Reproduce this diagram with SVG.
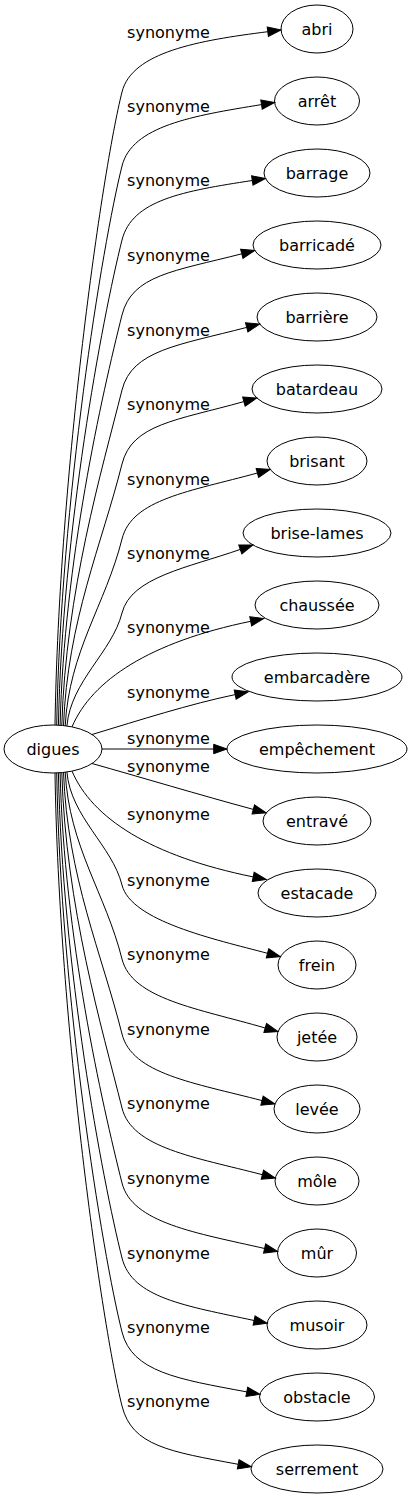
<svg xmlns="http://www.w3.org/2000/svg" width="413" height="1499" viewBox="0 0 413 1499">
<style>
text{font-family:"DejaVu Sans",sans-serif;font-size:16px;fill:#000;text-anchor:middle}
.n ellipse{fill:none;stroke:#000;stroke-width:1}
.e path{fill:none;stroke:#000;stroke-width:1;marker-end:url(#ah)}
</style>
<defs>
<marker id="ah" markerUnits="userSpaceOnUse" markerWidth="16" markerHeight="12" refX="0" refY="0" orient="auto" overflow="visible">
<path d="M0,-4.7 L13.3,0 L0,4.7 Z" fill="#000" stroke="#000" stroke-width="1"/>
</marker>
</defs>
<g id="connectors" class="e">
<path d="M55,725 C59,471.8 102,172 122,92 C132,52 198.4,40.5 267.8,31.7"/>
<path d="M56.7,725.1 C60.7,501.5 102,246 122,166 C132,126 192.4,115.8 261.5,104.6"/>
<path d="M58.4,725.2 C62.4,531.1 102,320 122,240 C132,200 183.1,191.1 252.3,180.5"/>
<path d="M60.1,725.3 C64.1,561.2 102,395 122,315 C132,275 174,271.2 241.8,253.8"/>
<path d="M61.8,725.4 C65.8,591.4 102,470 122,390 C132,350 179,345.1 246.7,327.4"/>
<path d="M63.5,725.6 C67.5,620.9 102,544 122,464 C132,424 176.5,420.4 243.9,401.6"/>
<path d="M65.2,725.8 C69.2,651 105.6,604.5 122,539 C132,499 189.9,491.5 257.4,473"/>
<path d="M66.9,726 C70.9,680.8 112,652.5 122,613 C131,577 188.4,567.6 240.3,549.4"/>
<path d="M72,726.9 C92,680 150,642 250.7,621.3"/>
<path d="M92,734.5 C140,720 190,704 235.2,694.6"/>
<path d="M102,749 L213.7,749"/>
<path d="M92,763.5 C140,777 200,795 253.3,809.4"/>
<path d="M72,771.1 C92,818 150,856 253.2,876.9"/>
<path d="M66.9,772 C70.9,817.2 112,845.5 122,885 C131,921 214.3,939.2 267.5,953.3"/>
<path d="M65.2,772.2 C69.2,847 105.6,893.5 122,959 C132,999 198,1008.5 265.2,1028"/>
<path d="M63.5,772.4 C67.5,877.1 102,954 122,1034 C132,1074 194.3,1082.9 262,1100.6"/>
<path d="M61.8,772.6 C65.8,906.6 102,1028 122,1108 C132,1148 194.7,1157.1 262.4,1174.7"/>
<path d="M60.1,772.8 C64.1,936.8 102,1103 122,1183 C132,1223 196.4,1232.9 264.6,1248.5"/>
<path d="M58.4,772.9 C62.4,966.9 102,1178 122,1258 C132,1298 185.7,1305.8 254.1,1320.5"/>
<path d="M56.7,772.9 C60.7,996.5 102,1252 122,1332 C132,1372 178,1379.1 246.8,1391.9"/>
<path d="M55,773 C59,1026.2 102,1326 122,1406 C132,1446 169.4,1451.5 238.2,1464.3"/>
<g id="edge-labels">
<text x="168.5" y="37.5">synonyme</text>
<text x="168.5" y="111.5">synonyme</text>
<text x="168.5" y="185.5">synonyme</text>
<text x="168.5" y="260.5">synonyme</text>
<text x="168.5" y="335.5">synonyme</text>
<text x="168.5" y="409.5">synonyme</text>
<text x="168.5" y="484.5">synonyme</text>
<text x="168.5" y="558.5">synonyme</text>
<text x="168.5" y="632.5">synonyme</text>
<text x="168.5" y="697.5">synonyme</text>
<text x="168.5" y="743.5">synonyme</text>
<text x="168.5" y="771.5">synonyme</text>
<text x="168.5" y="819.5">synonyme</text>
<text x="168.5" y="885.5">synonyme</text>
<text x="168.5" y="959.5">synonyme</text>
<text x="168.5" y="1034.5">synonyme</text>
<text x="168.5" y="1108.5">synonyme</text>
<text x="168.5" y="1183.5">synonyme</text>
<text x="168.5" y="1258.5">synonyme</text>
<text x="168.5" y="1332.5">synonyme</text>
<text x="168.5" y="1406.5">synonyme</text>
</g>
</g>
<g id="node-digues" class="n"><ellipse cx="53" cy="749" rx="49" ry="24"/><text x="53" y="754.5">digues</text></g>
<g id="node-abri" class="n"><ellipse cx="317" cy="29" rx="36" ry="24"/><text x="317" y="34.5">abri</text></g>
<g id="node-arret" class="n"><ellipse cx="317" cy="101" rx="42.5" ry="24"/><text x="317" y="106.5">arrêt</text></g>
<g id="node-barrage" class="n"><ellipse cx="317" cy="173" rx="53" ry="24"/><text x="317" y="178.5">barrage</text></g>
<g id="node-barricade" class="n"><ellipse cx="317" cy="245" rx="64" ry="24"/><text x="317" y="250.5">barricadé</text></g>
<g id="node-barriere" class="n"><ellipse cx="317" cy="317" rx="60" ry="24"/><text x="317" y="322.5">barrière</text></g>
<g id="node-batardeau" class="n"><ellipse cx="317" cy="389" rx="65" ry="24"/><text x="317" y="394.5">batardeau</text></g>
<g id="node-brisant" class="n"><ellipse cx="317" cy="461" rx="50" ry="24"/><text x="317" y="466.5">brisant</text></g>
<g id="node-brise-lames" class="n"><ellipse cx="317" cy="533" rx="74" ry="24"/><text x="317" y="538.5">brise-lames</text></g>
<g id="node-chaussee" class="n"><ellipse cx="317" cy="605" rx="62" ry="24"/><text x="317" y="610.5">chaussée</text></g>
<g id="node-embarcadere" class="n"><ellipse cx="317" cy="677" rx="85" ry="24"/><text x="317" y="682.5">embarcadère</text></g>
<g id="node-empechement" class="n"><ellipse cx="317" cy="749" rx="90" ry="24"/><text x="317" y="754.5">empêchement</text></g>
<g id="node-entrave" class="n"><ellipse cx="317" cy="821" rx="54" ry="24"/><text x="317" y="826.5">entravé</text></g>
<g id="node-estacade" class="n"><ellipse cx="317" cy="893" rx="59" ry="24"/><text x="317" y="898.5">estacade</text></g>
<g id="node-frein" class="n"><ellipse cx="317" cy="965" rx="39" ry="24"/><text x="317" y="970.5">frein</text></g>
<g id="node-jetee" class="n"><ellipse cx="317" cy="1037" rx="40" ry="24"/><text x="317" y="1042.5">jetée</text></g>
<g id="node-levee" class="n"><ellipse cx="317" cy="1109" rx="43" ry="24"/><text x="317" y="1114.5">levée</text></g>
<g id="node-mole" class="n"><ellipse cx="317" cy="1181" rx="42" ry="24"/><text x="317" y="1186.5">môle</text></g>
<g id="node-mur" class="n"><ellipse cx="317" cy="1253" rx="39.5" ry="24"/><text x="317" y="1258.5">mûr</text></g>
<g id="node-musoir" class="n"><ellipse cx="317" cy="1325" rx="50" ry="24"/><text x="317" y="1330.5">musoir</text></g>
<g id="node-obstacle" class="n"><ellipse cx="317" cy="1397" rx="57.5" ry="24"/><text x="317" y="1402.5">obstacle</text></g>
<g id="node-serrement" class="n"><ellipse cx="317" cy="1469" rx="66" ry="24"/><text x="317" y="1474.5">serrement</text></g>
</svg>
